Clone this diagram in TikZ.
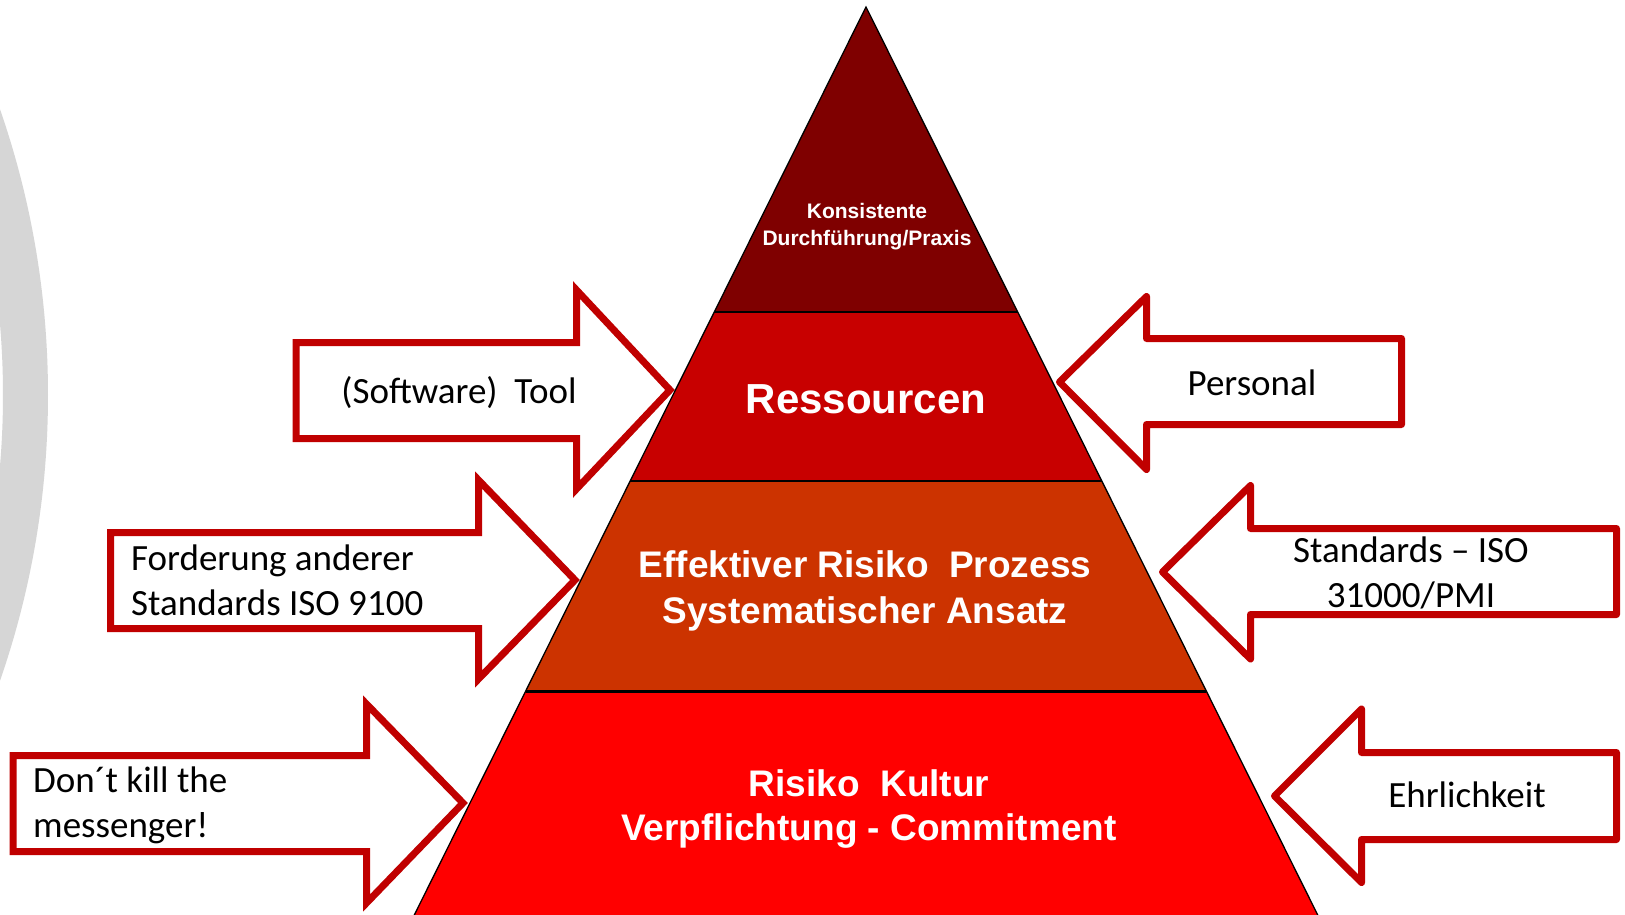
\documentclass[tikz,border=0pt]{standalone}
\usepackage{fontspec}
\setmainfont{Carlito}
\newfontfamily\arialfont{Liberation Sans}
\definecolor{tierA}{RGB}{127,0,0}
\definecolor{tierB}{RGB}{200,0,0}
\definecolor{tierC}{RGB}{204,51,0}
\definecolor{tierD}{RGB}{255,0,0}
\definecolor{arrowred}{RGB}{192,0,0}
\definecolor{ringgray}{RGB}{214,214,214}
\begin{document}
\begin{tikzpicture}[x=1pt,y=-1pt,
  blockR/.style={draw=arrowred, line width=7pt, fill=white, miter limit=10},
  blockL/.style={draw=arrowred, line width=7pt, fill=white, line join=round},
  lbl/.style={inner sep=0pt, text=black, font=\fontsize{37}{45}\selectfont},
  ptxt/.style={inner sep=0pt, text=white, align=center},
  edge/.style={draw=black, line width=1.3pt}]
\useasboundingbox (0,0) rectangle (1625,914);
\clip (0,0) rectangle (1625,914);
\fill[white] (0,0) rectangle (1625,914);
% gray ring on the left
\draw[ringgray, line width=45pt] (-822,395) circle[radius=847.5];
% arrows pointing right
\draw[blockR] (296,342.5) -- (576.5,342.5) -- (576.5,290) -- (670,390) -- (576.5,489) -- (576.5,438.5) -- (296,438.5) -- cycle;
\draw[blockR] (110.5,532.5) -- (478.5,532.5) -- (478.5,480) -- (575,580) -- (478.5,679) -- (478.5,628.5) -- (110.5,628.5) -- cycle;
\draw[blockR] (13,755.5) -- (366.5,755.5) -- (366.5,704) -- (463,803) -- (366.5,903) -- (366.5,851.5) -- (13,851.5) -- cycle;
% arrows pointing left
\draw[blockL] (1401.5,338.5) -- (1146.5,338.5) -- (1146.5,296.5) -- (1059.5,382) -- (1146.5,469.5) -- (1146.5,424.5) -- (1401.5,424.5) -- cycle;
\draw[blockL] (1616.5,528.5) -- (1250.5,528.5) -- (1250.5,485.5) -- (1162.5,572) -- (1250.5,659) -- (1250.5,614.5) -- (1616.5,614.5) -- cycle;
\draw[blockL] (1616.5,752.5) -- (1361.5,752.5) -- (1361.5,709) -- (1274.5,796) -- (1361.5,882.5) -- (1361.5,839.5) -- (1616.5,839.5) -- cycle;
% arrow labels (multi-line nodes: base = last line)
\node[lbl, anchor=base] (tool) at (459,403) {(Software)~~Tool};
\node[lbl, anchor=base west, align=left] (ford) at (131,615) {Forderung anderer\\Standards ISO 9100};
\node[lbl, anchor=base west, align=left] (dont) at (33,837) {Don´t kill the\\messenger!};
\node[lbl, anchor=base] (pers) at (1252,395) {Personal};
\node[lbl, anchor=base, align=center] (iso) at (1411,607) {Standards – ISO\\31000/PMI};
\node[lbl, anchor=base] (ehr) at (1467,807) {Ehrlichkeit};
% pyramid tiers
\fill[tierA] (866,7) -- (1017.7,312) -- (714.3,312) -- cycle;
\fill[tierB] (714.3,312) -- (1017.7,312) -- (1101.8,481) -- (630.2,481) -- cycle;
\fill[tierC] (630.2,481) -- (1101.8,481) -- (1206.3,691) -- (525.7,691) -- cycle;
\fill[tierD] (525.7,691) -- (1206.3,691) -- (1322.2,924) -- (409.8,924) -- cycle;
\coordinate (apex) at (866,7);
\coordinate (bl) at (409.8,924);
\coordinate (br) at (1322.2,924);
\draw[edge] (bl) -- (apex) -- (br);
\draw[edge] (714.3,312) -- (1017.7,312);
\draw[edge] (630.2,481) -- (1101.8,481);
\draw[draw=black, line width=3pt] (525.7,691) -- (1206.3,691);
% pyramid labels
\node[ptxt, anchor=base, font=\arialfont\bfseries\fontsize{21}{27}\selectfont] (kons) at (867,245) {Konsistente\\Durchführung/Praxis};
\node[ptxt, anchor=base, font=\arialfont\bfseries\fontsize{42}{50}\selectfont] (ress) at (866,413) {Ressourcen};
\node[ptxt, anchor=base, font=\arialfont\bfseries\fontsize{37}{46}\selectfont] (eff) at (865,623) {Effektiver Risiko~~Prozess\\Systematischer Ansatz};
\node[ptxt, anchor=base, font=\arialfont\bfseries\fontsize{37}{44}\selectfont] (kult) at (869,840) {Risiko~~Kultur\\Verpflichtung - Commitment};
\end{tikzpicture}
\end{document}
